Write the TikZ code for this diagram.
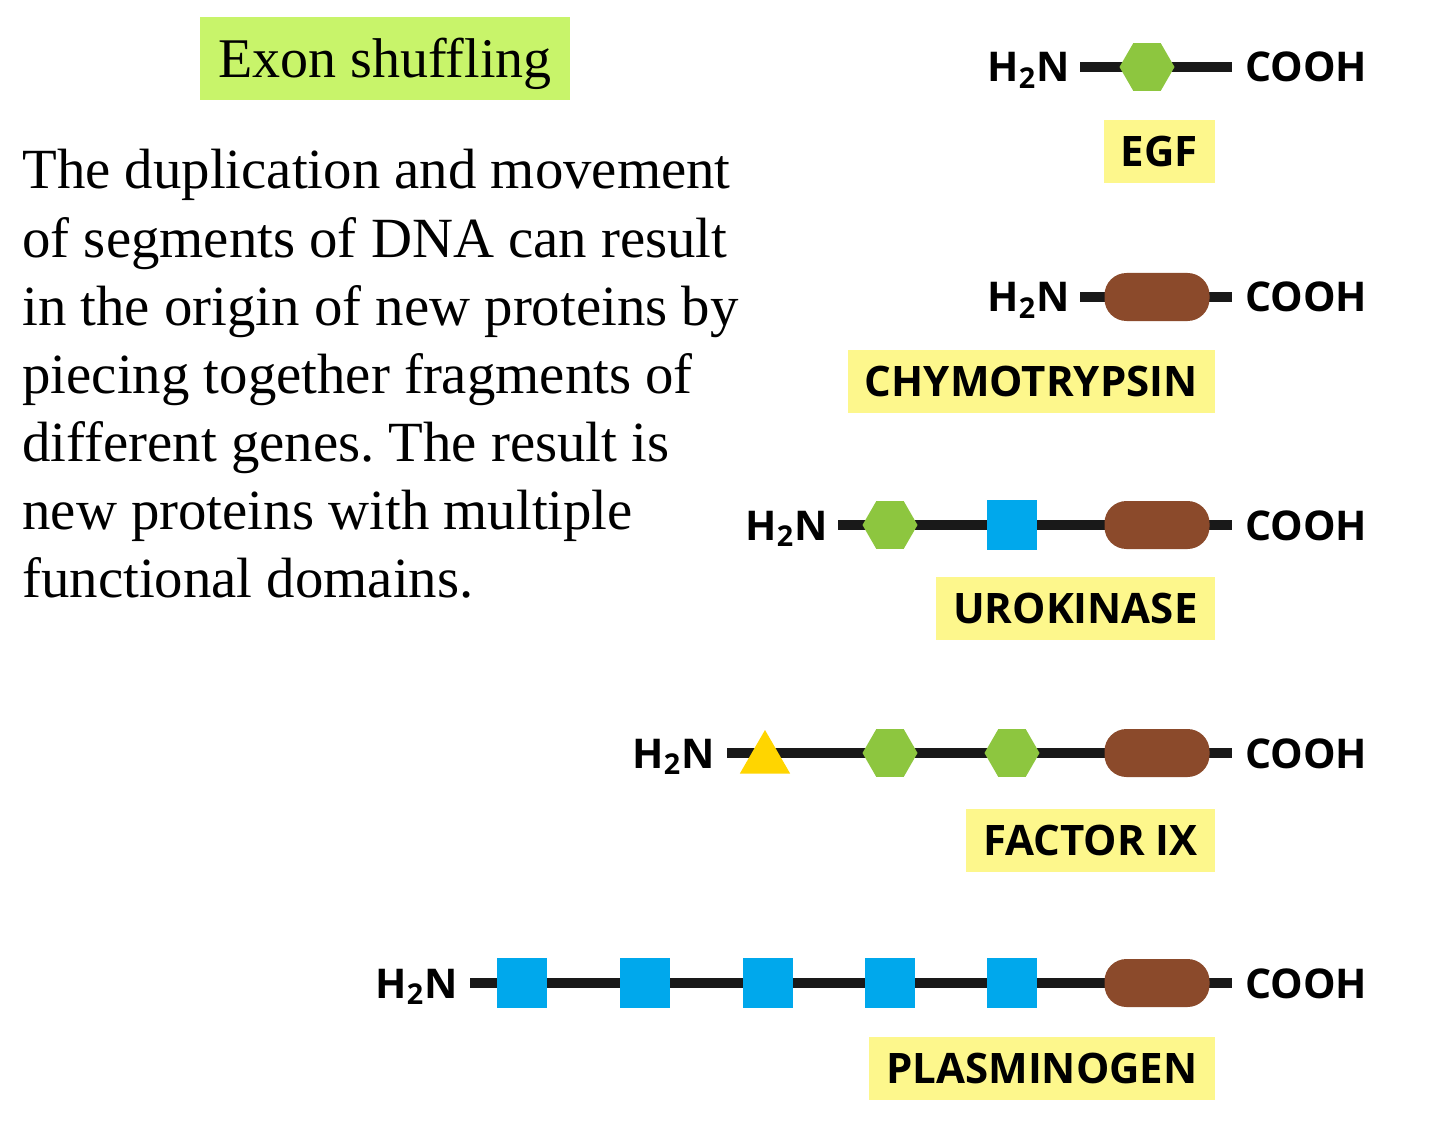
\documentclass[tikz,border=0pt]{standalone}
\usepackage{fontspec}
\setmainfont{Liberation Serif}
\newfontfamily\labfont{Open Sans}
\frenchspacing
\usetikzlibrary{shapes.geometric}
\definecolor{titlegreen}{HTML}{C8F46A}
\definecolor{labyellow}{HTML}{FDF78C}
\definecolor{hexgreen}{HTML}{8DC63F}
\definecolor{sqblue}{HTML}{00A8EC}
\definecolor{ovbrown}{HTML}{8B4A2B}
\definecolor{triyellow}{HTML}{FFD500}
\begin{document}
\begin{tikzpicture}[x=0.5pt,y=-0.5pt,
  backbone/.style={line width=5pt, black!90},
  endtext/.style={anchor=base west, inner sep=0pt, font=\labfont\bfseries\fontsize{20.5}{20.5}\selectfont},
  hexdom/.style={regular polygon, regular polygon sides=6, fill=hexgreen, inner sep=0pt, minimum size=27.5pt},
  sqdom/.style={rectangle, fill=sqblue, inner sep=0pt, minimum size=25pt},
  ovdom/.style={rectangle, rounded corners=11pt, fill=ovbrown, inner sep=0pt, minimum width=52.5pt, minimum height=24pt},
  tridom/.style={regular polygon, regular polygon sides=3, fill=triyellow, inner sep=0pt, minimum size=29pt},
  namebox/.style={anchor=east, fill=labyellow, inner xsep=8.5pt, inner ysep=0pt, minimum height=31.5pt, text height=14.5pt, text depth=0pt, font=\labfont\bfseries\fontsize{21}{21}\selectfont},
  bodytext/.style={anchor=base west, inner sep=0pt, font=\fontsize{28.4}{34}\selectfont}]
\path[fill=white] (0,0) rectangle (1440,1134);
\useasboundingbox (0,0) rectangle (1440,1134);

% title
\node[fill=titlegreen, minimum width=185pt, minimum height=41.5pt, text height=25pt, text depth=5.5pt, inner sep=0pt, font=\fontsize{28}{28}\selectfont] (title) at (385,58.5) {Exon shuffling};

% body text
\foreach \t [count=\i] in {The duplication and movement, of segments of DNA can result, in the origin of new proteins by, piecing together fragments of, different genes. The result is, new proteins with multiple, functional domains.}
  \node[bodytext] (body\i) at (22,{189+68*(\i-1)}) {\t};

% Row 1: EGF
\coordinate (a1) at (1080,67); \coordinate (b1) at (1232,67);
\draw[backbone] (a1) -- (b1);
\node[hexdom] (egfh) at (1147,67) {};
\node[endtext] (n1) at (987,82) {H\textsubscript{2}N};
\node[endtext] (c1) at (1245,82) {COOH};
\node[namebox] (l1) at (1215,152) {EGF};

% Row 2: Chymotrypsin
\coordinate (a2) at (1080,297); \coordinate (b2) at (1232,297);
\draw[backbone] (a2) -- (b2);
\node[ovdom] (chyo) at (1157,297) {};
\node[endtext] (n2) at (987,312) {H\textsubscript{2}N};
\node[endtext] (c2) at (1245,312) {COOH};
\node[namebox] (l2) at (1215,381.5) {CHYMOTRYPSIN};

% Row 3: Urokinase
\coordinate (a3) at (838,525); \coordinate (b3) at (1232,525);
\draw[backbone] (a3) -- (b3);
\node[hexdom] (uroh) at (890,525) {};
\node[sqdom] (uros) at (1012,525) {};
\node[ovdom] (uroo) at (1157,525) {};
\node[endtext] (n3) at (745,540) {H\textsubscript{2}N};
\node[endtext] (c3) at (1245,540) {COOH};
\node[namebox] (l3) at (1215,608.5) {UROKINASE};

% Row 4: Factor IX
\coordinate (a4) at (727,753); \coordinate (b4) at (1232,753);
\draw[backbone] (a4) -- (b4);
\node[tridom] (fixt) at (765,759) {};
\node[hexdom] (fixh1) at (890,753) {};
\node[hexdom] (fixh2) at (1012,753) {};
\node[ovdom] (fixo) at (1157,753) {};
\node[endtext] (n4) at (632,768) {H\textsubscript{2}N};
\node[endtext] (c4) at (1245,768) {COOH};
\node[namebox] (l4) at (1215,840.5) {FACTOR IX};

% Row 5: Plasminogen
\coordinate (a5) at (470,983); \coordinate (b5) at (1232,983);
\draw[backbone] (a5) -- (b5);
\foreach \x [count=\k] in {522,645,768,890,1012}
  \node[sqdom] (pls\k) at (\x,983) {};
\node[ovdom] (plso) at (1157,983) {};
\node[endtext] (n5) at (375,998) {H\textsubscript{2}N};
\node[endtext] (c5) at (1245,998) {COOH};
\node[namebox] (l5) at (1215,1068.5) {PLASMINOGEN};
\end{tikzpicture}
\end{document}
